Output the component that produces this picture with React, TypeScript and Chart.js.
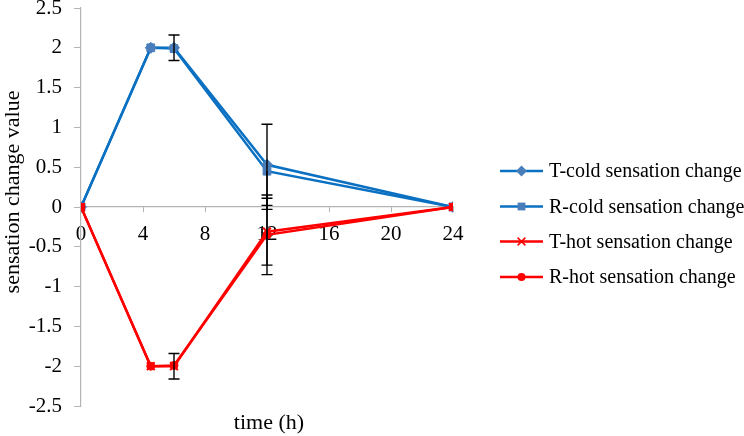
import React, { useEffect, useRef } from "react";
import { Chart, registerables } from "chart.js";

Chart.register(...registerables);

// ---- data ----
const times = [0, 4.5, 6, 12, 24];
const seriesLabels = [
  "T-cold sensation change",
  "R-cold sensation change",
  "T-hot sensation change",
  "R-hot sensation change",
];
const tColdValues = [0, 2.0, 2.0, 0.53, 0];
const rColdValues = [0, 2.0, 1.99, 0.45, 0];
const tHotValues = [0, -2.0, -2.0, -0.31, 0];
const rHotValues = [0, -2.0, -1.99, -0.35, 0];

const tColdErrPlus = [null, null, 0.16, 0.51, null];
const tColdErrMinus = [null, null, 0.16, 0.51, null];
const rColdErrPlus = [null, null, null, null, null];
const rColdErrMinus = [null, null, null, 0.48, null];
const tHotErrPlus = [null, null, 0.16, 0.42, null];
const tHotErrMinus = [null, null, 0.16, 0.42, null];
const rHotErrPlus = [null, null, null, 0.5, null];
const rHotErrMinus = [null, null, null, 0.5, null];

const xTickValues = [0, 4, 8, 12, 16, 20, 24];
const yTickValues = [-2.5, -2, -1.5, -1, -0.5, 0, 0.5, 1, 1.5, 2, 2.5];

const xTitle = "time (h)";
const yTitle = "sensation change value";

const FONT = "'Liberation Serif', 'Times New Roman', serif";
const AXIS_GRAY = "#B4B4B4";
const BLUE_LINE = "#0A70C2";
const BLUE_MARK = "#4A7EBB";
const RED = "#FF0000";

type Marker = "rectRot" | "rect" | "crossRot" | "circle";

const styles: { line: string; mark: string; marker: Marker; radius: number }[] = [
  { line: BLUE_LINE, mark: BLUE_MARK, marker: "rectRot", radius: 5.5 },
  { line: BLUE_LINE, mark: BLUE_MARK, marker: "rect", radius: 5.5 },
  { line: RED, mark: RED, marker: "crossRot", radius: 5.5 },
  { line: RED, mark: RED, marker: "circle", radius: 4 },
];

const allValues = [tColdValues, rColdValues, tHotValues, rHotValues];
const errPlus = [tColdErrPlus, rColdErrPlus, tHotErrPlus, rHotErrPlus];
const errMinus = [tColdErrMinus, rColdErrMinus, tHotErrMinus, rHotErrMinus];

function drawMarker(ctx: CanvasRenderingContext2D, kind: Marker, x: number, y: number, r: number, color: string) {
  ctx.save();
  ctx.fillStyle = color;
  ctx.strokeStyle = color;
  ctx.lineWidth = 1.5;
  ctx.beginPath();
  if (kind === "rectRot") {
    const s = r;
    ctx.moveTo(x, y - s);
    ctx.lineTo(x + s, y);
    ctx.lineTo(x, y + s);
    ctx.lineTo(x - s, y);
    ctx.closePath();
    ctx.fill();
  } else if (kind === "rect") {
    const s = r * Math.SQRT1_2;
    ctx.rect(x - s, y - s, 2 * s, 2 * s);
    ctx.fill();
  } else if (kind === "crossRot") {
    const s = r * Math.SQRT1_2;
    ctx.moveTo(x - s, y - s);
    ctx.lineTo(x + s, y + s);
    ctx.moveTo(x - s, y + s);
    ctx.lineTo(x + s, y - s);
    ctx.stroke();
  } else {
    ctx.arc(x, y, r, 0, Math.PI * 2);
    ctx.fill();
  }
  ctx.restore();
}

const customPlugin = {
  id: "custom",
  afterDatasetsDraw(chart: any) {
    const ctx: CanvasRenderingContext2D = chart.ctx;
    const xs = chart.scales.x;
    const ys = chart.scales.y;
    ctx.save();
    ctx.strokeStyle = "#000";
    ctx.lineWidth = 1.4;
    const cap = 5.5;
    for (let s = 0; s < allValues.length; s++) {
      for (let i = 0; i < times.length; i++) {
        const v = allValues[s][i];
        const p = errPlus[s][i];
        const m = errMinus[s][i];
        if (p == null && m == null) continue;
        const px = xs.getPixelForValue(times[i]);
        const top = ys.getPixelForValue(v + (p || 0));
        const bot = ys.getPixelForValue(v - (m || 0));
        ctx.beginPath();
        ctx.moveTo(px, top);
        ctx.lineTo(px, bot);
        if (p) {
          ctx.moveTo(px - cap, top);
          ctx.lineTo(px + cap, top);
        }
        if (m) {
          ctx.moveTo(px - cap, bot);
          ctx.lineTo(px + cap, bot);
        }
        ctx.stroke();
      }
    }
    ctx.restore();
  },
  afterDraw(chart: any) {
    const ctx: CanvasRenderingContext2D = chart.ctx;
    const area = chart.chartArea;
    ctx.save();
    // axis titles
    ctx.fillStyle = "#000";
    ctx.font = `22px ${FONT}`;
    ctx.textAlign = "center";
    ctx.textBaseline = "middle";
    ctx.fillText(xTitle, (area.left + area.right) / 2 + 2, 423);
    ctx.save();
    ctx.translate(13, 192);
    ctx.rotate(-Math.PI / 2);
    ctx.fillText(yTitle, 0, 0);
    ctx.restore();

    // legend
    const lx0 = 500;
    const lx1 = 543;
    const rows = [171, 206.5, 241.5, 277];
    ctx.font = `20px ${FONT}`;
    ctx.textAlign = "left";
    for (let i = 0; i < seriesLabels.length; i++) {
      const y = rows[i];
      const st = styles[i];
      ctx.strokeStyle = st.line;
      ctx.lineWidth = 2.5;
      ctx.beginPath();
      ctx.moveTo(lx0, y);
      ctx.lineTo(lx1, y);
      ctx.stroke();
      drawMarker(ctx, st.marker, (lx0 + lx1) / 2, y, st.radius, st.mark);
      ctx.fillStyle = "#000";
      ctx.fillText(seriesLabels[i], 549, y + 1);
    }
    ctx.restore();
  },
};

export default function App() {
  const canvasRef = useRef<HTMLCanvasElement | null>(null);

  useEffect(() => {
    const canvas = canvasRef.current;
    if (!canvas) return;
    const datasets = seriesLabels.map((label, s) => ({
      label,
      data: times.map((t, i) => ({ x: t, y: allValues[s][i] })),
      borderColor: styles[s].line,
      backgroundColor: styles[s].mark,
      pointBackgroundColor: styles[s].mark,
      pointBorderColor: styles[s].mark,
      pointStyle: styles[s].marker,
      pointRadius: styles[s].radius,
      pointBorderWidth: styles[s].marker === "crossRot" ? 2 : 1,
      borderWidth: 2.5,
      tension: 0,
      fill: false,
      order: s < 2 ? 2 : 1,
    }));

    const tickFont = { family: FONT, size: 21 };

    const chart = new Chart(canvas, {
      type: "line",
      data: { datasets },
      plugins: [customPlugin],
      options: {
        animation: false,
        responsive: false,
        maintainAspectRatio: false,
        layout: { padding: { top: 8, right: 291, bottom: 30, left: 0 } },
        plugins: {
          legend: { display: false },
          tooltip: { enabled: false },
          title: { display: false },
        },
        scales: {
          x: {
            type: "linear",
            min: 0,
            max: 24,
            position: { y: 0 },
            afterBuildTicks: (scale: any) => {
              scale.ticks = xTickValues.map((v) => ({ value: v }));
            },
            ticks: {
              font: tickFont,
              color: "#000",
              padding: 10,
              autoSkip: false,
              maxRotation: 0,
              callback: (v: any) => String(v),
            },
            grid: {
              drawOnChartArea: false,
              drawTicks: true,
              tickLength: 5,
              color: AXIS_GRAY,
              lineWidth: 1,
            },
            border: { color: AXIS_GRAY, width: 1.2 },
          },
          y: {
            type: "linear",
            min: -2.5,
            max: 2.5,
            afterBuildTicks: (scale: any) => {
              scale.ticks = yTickValues.map((v) => ({ value: v }));
            },
            afterFit: (scale: any) => {
              scale.width = 81;
              scale.paddingTop = 0;
              scale.paddingBottom = 0;
            },
            ticks: {
              font: tickFont,
              color: "#000",
              padding: 12,
              callback: (v: any) => String(v),
            },
            grid: {
              drawOnChartArea: false,
              drawTicks: true,
              tickLength: 7,
              color: AXIS_GRAY,
              lineWidth: 1,
            },
            border: { color: AXIS_GRAY, width: 1.2 },
          },
        },
      } as any,
    });
    return () => chart.destroy();
  }, []);

  return (
    <div style={{ position: "fixed", left: 0, top: 0, width: 744, height: 436, background: "#fff" }}>
      <canvas ref={canvasRef} width={744} height={436} style={{ display: "block" }} />
    </div>
  );
}
